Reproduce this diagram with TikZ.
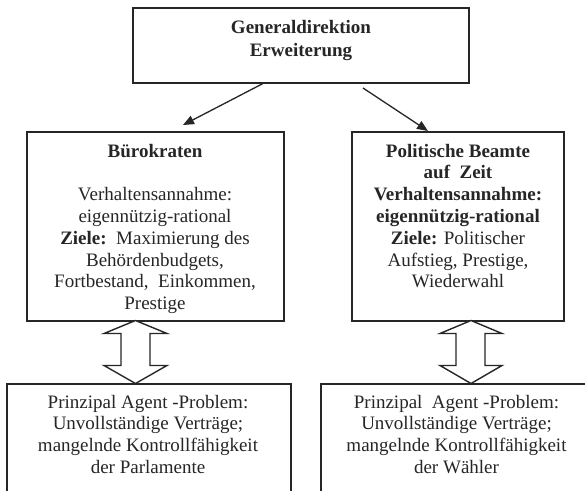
\documentclass[tikz,border=0pt]{standalone}
\usepackage{fontspec}
\setmainfont{Liberation Serif}
\usetikzlibrary{arrows.meta}
\tikzset{
  box/.style={draw=black!85, line width=1.4pt, rectangle, inner sep=0pt},
  ln/.style={font=\fontsize{19}{21.8}\selectfont, text=black!85, inner sep=0pt, anchor=base},
  conn/.style={draw=black!85, line width=1.3pt, -{Triangle[length=11pt,width=9pt]}},
  hollow/.style={draw=black!85, line width=1.4pt, fill=white, line join=miter}
}
\begin{document}
\begin{tikzpicture}[x=1pt,y=-1pt]
\useasboundingbox (0,0) rectangle (585,490);
\clip (0,0) rectangle (585,490);
\fill[white] (0,0) rectangle (585,490);
% boxes
\node[box, minimum width=336pt, minimum height=75pt] (top) at (301,45.5) {};
\node[box, minimum width=257pt, minimum height=189pt] (bL) at (155.5,226.5) {};
\node[box, minimum width=212pt, minimum height=189pt] (bR) at (458,226.5) {};
\node[box, minimum width=284pt, minimum height=130pt] (pL) at (149,449) {};
\node[box, minimum width=279pt, minimum height=130pt] (pR) at (460.5,449) {};
% top box text
\node[ln] (t1) at (301,33.5) {\textbf{Generaldirektion}};
\node[ln] (t2) at (301,56) {\textbf{Erweiterung}};
% left box text
\node[ln] (l1) at (155,157) {\textbf{Bürokraten}};
\node[ln] (l2) at (155,200.6) {Verhaltensannahme:};
\node[ln] (l3) at (155,222.4) {eigennützig-rational};
\node[ln] (l4) at (155,244.2) {\textbf{Ziele:}\ \ Maximierung des};
\node[ln] (l5) at (155,266) {Behördenbudgets,};
\node[ln] (l6) at (155,287.8) {Fortbestand,\ \ Einkommen,};
\node[ln] (l7) at (155,309.6) {Prestige};
% right box text
\node[ln] (r1) at (458,157) {\textbf{Politische Beamte}};
\node[ln] (r2) at (458,178.8) {\textbf{auf\ \ Zeit}};
\node[ln] (r3) at (458,200.6) {\textbf{Verhaltensannahme:}};
\node[ln] (r4) at (458,222.4) {\textbf{eigennützig-rational}};
\node[ln] (r5) at (458,244.2) {\textbf{Ziele:} Politischer};
\node[ln] (r6) at (458,266) {Aufstieg, Prestige,};
\node[ln] (r7) at (458,287.8) {Wiederwahl};
% bottom left text
\node[ln] (p1) at (148,408) {Prinzipal Agent -Problem:};
\node[ln] (p2) at (148,429.8) {Unvollständige Verträge;};
\node[ln] (p3) at (148,451.6) {mangelnde Kontrollfähigkeit};
\node[ln] (p4) at (148,473.4) {der Parlamente};
% bottom right text
\node[ln] (q1) at (456.5,408) {Prinzipal\ \ Agent -Problem:};
\node[ln] (q2) at (456.5,429.8) {Unvollständige Verträge;};
\node[ln] (q3) at (456.5,451.6) {mangelnde Kontrollfähigkeit};
\node[ln] (q4) at (456.5,473.4) {der Wähler};
% connectors
\coordinate (a0) at (263,83.5);
\coordinate (a1) at (183,125);
\coordinate (b0) at (363,88);
\coordinate (b1) at (428,131);
\draw[conn] (a0) -- (a1);
\draw[conn] (b0) -- (b1);
% hollow double arrows
\draw[hollow] (135.5,320.5) -- (167,333.5) -- (150,333.5) -- (150,365.5) -- (167,365.5) -- (135.5,383.5)
  -- (104,365.5) -- (121,365.5) -- (121,333.5) -- (104,333.5) -- cycle;
\draw[hollow] (471,320.5) -- (502,333.5) -- (485,333.5) -- (485,365.5) -- (502,365.5) -- (471,383.5)
  -- (440,365.5) -- (456,365.5) -- (456,333.5) -- (440,333.5) -- cycle;
\end{tikzpicture}
\end{document}
